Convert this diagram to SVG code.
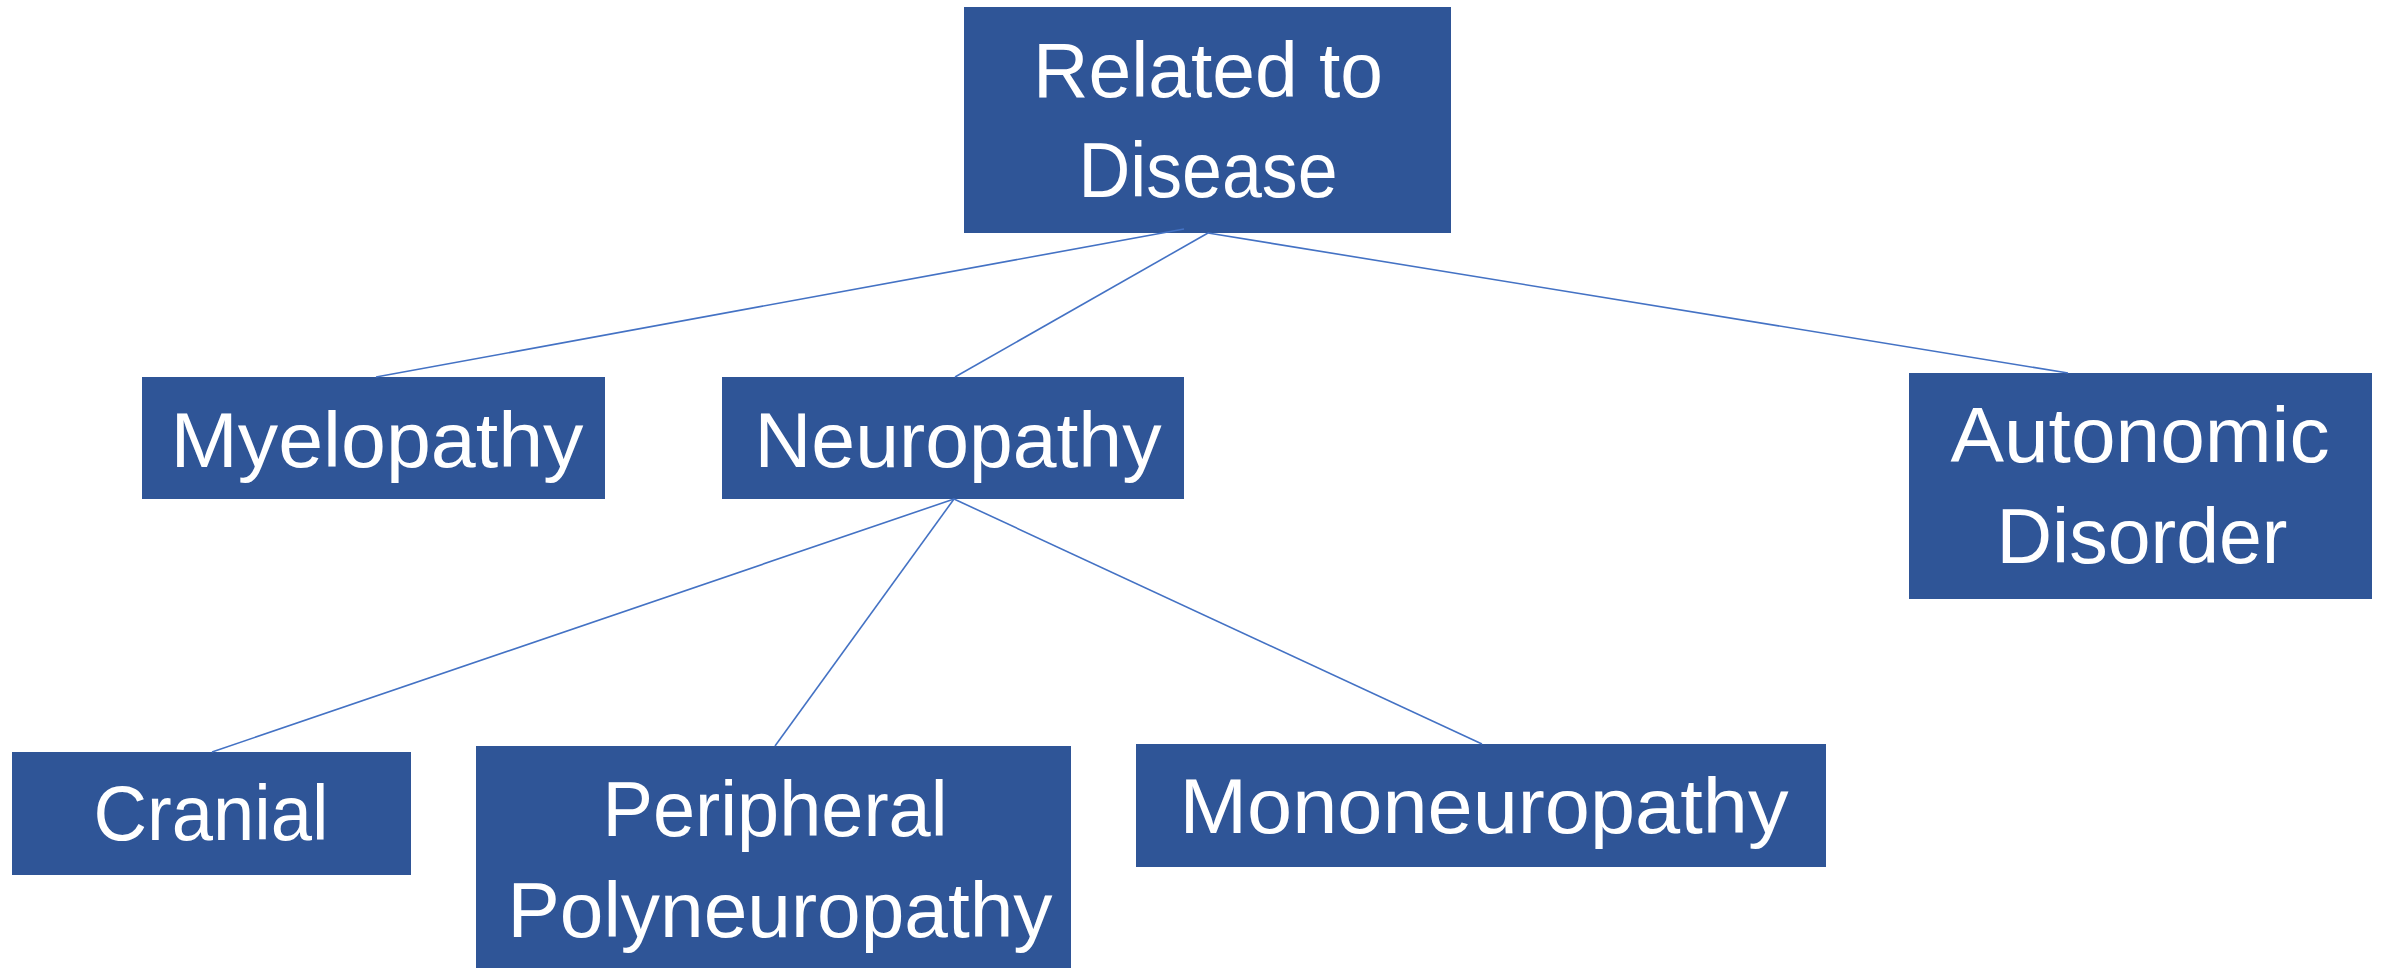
<svg xmlns="http://www.w3.org/2000/svg" width="2385" height="968" viewBox="0 0 2385 968">
<style>
.box{fill:#2F5597}
.t{font-family:"Liberation Sans",Arial,sans-serif;font-size:77px;fill:#FFFFFF;text-anchor:middle}
.c{stroke:#4472C4;stroke-width:1.6;fill:none}
</style>
<rect width="2385" height="968" fill="#FFFFFF"/>
<g id="node-related">
<rect class="box" x="964" y="7" width="487" height="226"/>
<text class="t" x="1208" y="97" textLength="350" lengthAdjust="spacingAndGlyphs">Related to</text>
<text class="t" x="1208" y="197" textLength="259" lengthAdjust="spacingAndGlyphs">Disease</text>
</g>
<g id="node-myelopathy">
<rect class="box" x="142" y="377" width="463" height="122"/>
<text class="t" x="377" y="467" textLength="413" lengthAdjust="spacingAndGlyphs">Myelopathy</text>
</g>
<g id="node-neuropathy">
<rect class="box" x="722" y="377" width="462" height="122"/>
<text class="t" x="958" y="467" textLength="407" lengthAdjust="spacingAndGlyphs">Neuropathy</text>
</g>
<g id="node-autonomic">
<rect class="box" x="1909" y="373" width="463" height="226"/>
<text class="t" x="2140" y="462" textLength="379" lengthAdjust="spacingAndGlyphs">Autonomic</text>
<text class="t" x="2142" y="563" textLength="291" lengthAdjust="spacingAndGlyphs">Disorder</text>
</g>
<g id="node-cranial">
<rect class="box" x="12" y="752" width="399" height="123"/>
<text class="t" x="211" y="840" textLength="235" lengthAdjust="spacingAndGlyphs">Cranial</text>
</g>
<g id="node-peripheral">
<rect class="box" x="476" y="746" width="595" height="230"/>
<text class="t" x="775" y="836" textLength="345" lengthAdjust="spacingAndGlyphs">Peripheral</text>
<text class="t" x="780" y="937" textLength="545" lengthAdjust="spacingAndGlyphs">Polyneuropathy</text>
</g>
<g id="node-mono">
<rect class="box" x="1136" y="744" width="690" height="123"/>
<text class="t" x="1484" y="833" textLength="609" lengthAdjust="spacingAndGlyphs">Mononeuropathy</text>
</g>
<g id="connectors">
<line class="c" x1="1184" y1="229" x2="376" y2="377"/>
<line class="c" x1="1208" y1="233" x2="955" y2="377"/>
<line class="c" x1="1208" y1="233" x2="2068" y2="373"/>
<line class="c" x1="954" y1="499" x2="212" y2="752"/>
<line class="c" x1="954" y1="499" x2="775" y2="746"/>
<line class="c" x1="954" y1="499" x2="1482" y2="744"/>
</g>
</svg>
